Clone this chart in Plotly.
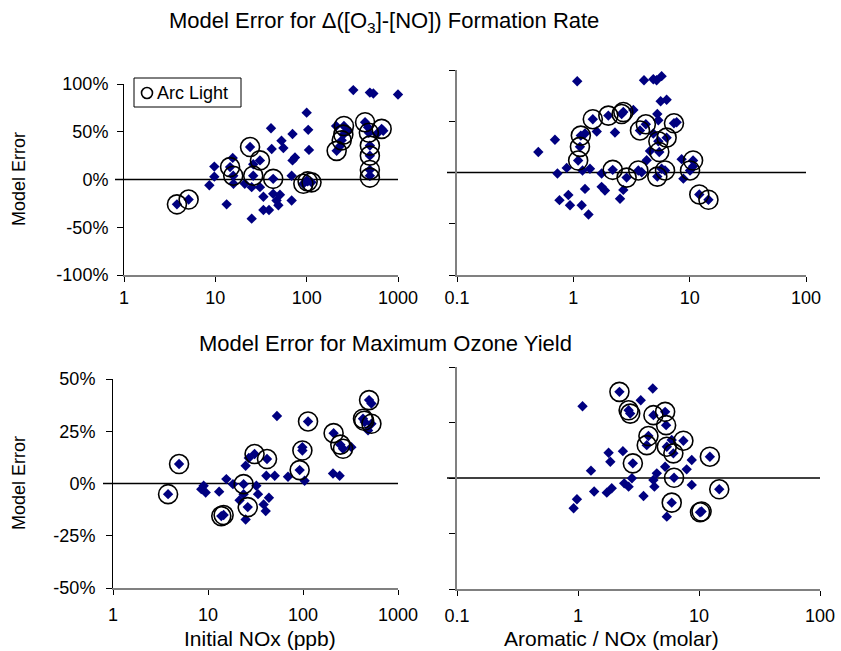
import plotly.graph_objects as go

# ---------------- data ----------------
# Top-left: Model error for d(O3-NO) rate vs initial NOx (ppb)
TL_x = [3.8, 5.1, 8.6, 9.75, 9.75, 13.3, 15.5, 14.5, 15.7, 15.8, 21, 25, 24, 30.8, 26, 26, 25, 30.8, 33.6, 33.6,
        38.7, 41.4, 40.7, 43, 43, 46.8, 51, 49, 53, 55.6, 68.5, 68.5, 70, 74.5, 70, 100, 104, 106, 100, 92,
        102.5, 113, 213, 232, 242, 252, 256, 210, 286, 324, 492, 537, 1000, 436, 470, 480, 492, 492, 492, 492,
        662, 690, 585]
TL_y = [-26, -21, -6, 13.5, 3, -26, 22.6, 13, 4, -4.5, -4.5, -41, 34, 20, 4, 16, -8, -8, -18, -32,
        -32, 32, 53.6, 0.7, -15, -22, -16, -27, 40.7, 33, 4, -22, 20, 23, 47.7, 70, 52, 31, -1, -4.5,
        -2, -3, 30, 35, 41, 47, 56, 56, 51, 93.6, 91, 90, 89, 60, 54.6, 49, 35.5, 25, 10, 4,
        53, 51, 47.7]
TLc_x = [3.8, 5.1, 14.5, 15.7, 24, 30.8, 26, 43, 92, 102.5, 113, 213, 242, 252, 256, 436, 480, 492, 492, 492,
         492, 662]
TLc_y = [-26, -21, 13, 4, 34, 20, 4, 0.7, -4.5, -2, -3, 30, 41, 47, 56, 60, 49, 35.5, 25, 10,
         2, 53]

# Top-right: vs aromatic / NOx (molar)
TR_x = [1.08, 4.05, 4.87, 5.2, 5.74, 5.63, 6.34, 0.5, 0.695, 0.73, 0.877, 0.76, 0.906, 0.936, 1.18, 1.35, 1.26,
        1.2, 1.39, 1.1, 1.14, 1.16, 1.26, 1.59, 1.47, 2.0, 2.28, 1.75, 1.87, 1.75, 2.18, 2.52, 2.69, 2.87, 2.6,
        2.69, 3.28, 3.62, 3.87, 3.74, 4.2, 4.56, 4.27, 4.87, 5.27, 5.38, 5.38, 6.34, 5.48, 5.27, 6.14, 5.74,
        7.33, 7.73, 8.53, 8.83, 10.07, 10.7, 10.7, 12.1, 14.5]
TR_y = [89, 90, 91, 90, 94, 69.5, 71, 20, 32, -1, 4.5, -27, -22, -32, -32, -41, -16,
        2, 3.6, 11.7, 25, 36, 38, 40, 52, 55.5, 39, -1, -17.5, -14, 2.6, -25.6, -17, -5, 57,
        59, 61, 2, 0.3, 41, 47, 21, 12, 38, 57, 51, 30.5, 34, 20, -4, 2, 3.6,
        48, 49, 13, -6, 2, 11.7, 6, -21.4, -26.6]
TRc_x = [1.1, 1.14, 1.16, 1.47, 2.0, 2.18, 2.87, 2.6, 2.69, 3.62, 3.74, 4.2, 5.38, 6.34, 5.48, 5.27, 6.14,
         7.33, 10.07, 10.7, 12.1, 14.5]
TRc_y = [11.7, 25, 36, 52, 55.5, 2.6, -5, 57, 59, 2, 41, 47, 30.5, 34, 20, -4, 2,
         48, 2, 11.7, -21.4, -26.6]

# Bottom-left: Model error for maximum ozone yield vs initial NOx (ppb)
BL_x = [3.8, 4.96, 8.5, 9.45, 9.0, 13.1, 14.6, 13.8, 15.6, 18.3, 23.7, 24.9, 26.9, 30.9, 23.7, 21.5, 24.9, 26.2,
        32.3, 33.6, 38.5, 40.5, 43.8, 41.8, 41.1, 50.4, 53.2, 69.5, 92.2, 98.5, 98.5, 104, 113, 207, 243, 210,
        247, 264, 323, 496, 525, 428, 446, 525, 484]
BL_y = [-5.1, 9.3, -2.7, -4.3, -1.1, -3.9, -15.1, -15.6, 2.1, -0.3, -0.3, 8.5, 12.2, 14.1, -5.1, -8, -17.2, -11.3,
        -1.1, -5.1, -10, -13.2, -6.8, 11.7, 3.7, 3.7, 32.3, 3.2, 6.4, 15.8, 17.4, 1.3, 29.7, 4.8, 3.7, 24.1,
        18.6, 16.6, 17.4, 39.9, 38.3, 31.0, 29.4, 28.6, 25.4]
BLc_x = [3.8, 4.96, 14.6, 13.8, 23.7, 30.9, 26.2, 41.8, 92.2, 98.5, 113, 210, 247, 264, 496, 428, 440, 525]
BLc_y = [-5.1, 9.3, -15.1, -15.6, -0.3, 14.1, -11.3, 11.7, 6.4, 15.8, 29.7, 24.1, 18.6, 16.6, 39.9, 31.0, 30.0,
         28.6]

# Bottom-right: vs aromatic / NOx (molar)
BR_x = [1.09, 0.92, 0.98, 1.28, 1.36, 1.73, 1.9, 1.79, 1.85, 2.2, 2.35, 2.62, 2.7, 3.3, 4.15, 2.84, 2.41, 2.62,
        2.79, 3.48, 4.2, 3.82, 3.7, 4.2, 4.28, 4.48, 5.25, 5.35, 5.42, 6.14, 7.43, 5.95, 5.25, 6.22, 5.95, 5.42,
        7.91, 8.71, 8.71, 10.5, 10.2, 12.3, 14.7]
BR_y = [32.3, -13.6, -9.6, 3.3, -6.1, -6.6, -4.6, 11.4, 7.3, 38.8, 12.1, 30.5, 29, 35, 40.3, 6.6, -2.4, -3.9,
        -0.1, -8.1, 28.3, 18.9, 14.8, -0.9, -3.9, 2.1, 29.8, 23.8, 14.1, 11.1, 16.8, 17.1, 5.1, 0.1, -11.1, -17.4,
        3.9, 8.1, -3.1, -15.1, -15.4, 9.6, -5.1]
BRc_x = [2.2, 2.62, 2.7, 2.84, 4.2, 3.82, 3.7, 5.25, 5.35, 5.42, 6.14, 7.43, 6.22, 5.95, 10.5, 10.2, 12.3, 14.7]
BRc_y = [38.8, 30.5, 29, 6.6, 28.3, 18.9, 14.8, 29.8, 23.8, 14.1, 11.1, 16.8, 0.1, -11.1, -15.1, -15.4, 9.6, -5.1]

NOX_TICKS = [1, 10, 100, 1000]
NOX_TEXT = ["1", "10", "100", "1000"]
RATIO_TICKS = [0.1, 1, 10, 100]
RATIO_TEXT = ["0.1", "1", "10", "100"]
TOP_Y_TICKS = [-100, -50, 0, 50, 100]
TOP_Y_TEXT = ["-100%", "-50%", "0%", "50%", "100%"]
BOT_Y_TICKS = [-50, -25, 0, 25, 50]
BOT_Y_TEXT = ["-50%", "-25%", "0%", "25%", "50%"]

TITLE_TOP = "Model Error for Δ([O<sub>3</sub>]-[NO]) Formation Rate"
TITLE_BOT = "Model Error for Maximum Ozone Yield"
YLABEL = "Model Error"
XLABEL_L = "Initial NOx (ppb)"
XLABEL_R = "Aromatic / NOx (molar)"
LEGEND_NAME = "Arc Light"

# ---------------- figure ----------------
W, H = 841, 651
FONT = "Liberation Sans, Arial, sans-serif"
NAVY = "#000080"
GRAY = "#808080"


def px(x):
    return x / W


def py(y):
    return 1 - y / H


fig = go.Figure()

panels = [
    ("x", "y", TL_x, TL_y, TLc_x, TLc_y),
    ("x2", "y2", TR_x, TR_y, TRc_x, TRc_y),
    ("x3", "y3", BL_x, BL_y, BLc_x, BLc_y),
    ("x4", "y4", BR_x, BR_y, BRc_x, BRc_y),
]
for xa, ya, dx, dy, cx, cy in panels:
    fig.add_trace(go.Scatter(
        x=dx, y=dy, xaxis=xa, yaxis=ya, mode="markers", showlegend=False, cliponaxis=False,
        marker=dict(symbol="diamond", size=8, color=NAVY, line=dict(width=0)),
        hoverinfo="x+y"))
for xa, ya, dx, dy, cx, cy in panels:
    fig.add_trace(go.Scatter(
        x=cx, y=cy, xaxis=xa, yaxis=ya, mode="markers", name=LEGEND_NAME, showlegend=False,
        cliponaxis=False,
        marker=dict(symbol="circle-open", size=19, color="black", line=dict(width=1.6, color="black")),
        hoverinfo="x+y"))

doms = {
    "TL": ([px(124), px(398)], [py(275), py(84)]),
    "TR": ([px(457), px(806)], [py(275), py(70)]),
    "BL": ([px(113), px(398)], [py(588), py(379)]),
    "BR": ([px(457), px(820)], [py(589), py(367)]),
}

tickfont = dict(family=FONT, size=18, color="black")


def xaxis(dom, anchor, ticks, text, rng, standoff):
    return dict(domain=dom, anchor=anchor, type="log", range=rng, tickvals=ticks, ticktext=text,
                showgrid=False, zeroline=False, showline=True, linecolor=GRAY, linewidth=2,
                ticks="outside", ticklen=5, tickcolor="black", tickwidth=1, tickfont=tickfont,
                ticklabelstandoff=standoff, showticklabels=True, fixedrange=True, automargin=False)


def yaxis(dom, anchor, ticks, text, rng, labels, lcolor, lwidth, standoff):
    return dict(domain=dom, anchor=anchor, range=rng, tickvals=ticks, ticktext=text,
                showgrid=False, zeroline=False, showline=True, linecolor=lcolor, linewidth=lwidth,
                ticks="outside", ticklen=6, tickcolor="black", tickwidth=1, tickfont=tickfont,
                ticklabelstandoff=standoff, showticklabels=labels, fixedrange=True, automargin=False)


fig.update_layout(
    width=W, height=H, margin=dict(l=0, r=0, t=0, b=0),
    paper_bgcolor="white", plot_bgcolor="white",
    font=dict(family=FONT, color="black"),
    xaxis=xaxis(doms["TL"][0], "y", NOX_TICKS, NOX_TEXT, [0, 3], 0),
    yaxis=yaxis(doms["TL"][1], "x", TOP_Y_TICKS, TOP_Y_TEXT, [-100, 100], True, "black", 1, 5),
    xaxis2=xaxis(doms["TR"][0], "y2", RATIO_TICKS, RATIO_TEXT, [-1, 2], 0),
    yaxis2=yaxis(doms["TR"][1], "x2", TOP_Y_TICKS, TOP_Y_TEXT, [-100, 100], False, GRAY, 2, 5),
    xaxis3=xaxis(doms["BL"][0], "y3", NOX_TICKS, NOX_TEXT, [0, 3], 4),
    yaxis3=yaxis(doms["BL"][1], "x3", BOT_Y_TICKS, BOT_Y_TEXT, [-50, 50], True, "black", 1, 7),
    xaxis4=xaxis(doms["BR"][0], "y4", RATIO_TICKS, RATIO_TEXT, [-1, 2], 4),
    yaxis4=yaxis(doms["BR"][1], "x4", BOT_Y_TICKS, BOT_Y_TEXT, [-50, 50], False, GRAY, 2, 7),
    showlegend=False,
)

# zero reference lines
for ya, x0, x1 in [("y", 115, 398), ("y2", 447, 806), ("y3", 103, 398), ("y4", 447, 820)]:
    fig.add_shape(type="line", xref="paper", yref=ya, x0=px(x0), x1=px(x1), y0=0, y1=0,
                  line=dict(color="black", width=1.6), layer="below")

# legend box (drawn by hand to match the tight Excel-style legend)
fig.add_shape(type="rect", xref="paper", yref="paper", x0=px(134), x1=px(241), y0=py(107), y1=py(78),
              line=dict(color="black", width=1), fillcolor="white", layer="below")
fig.add_shape(type="circle", xref="paper", yref="paper", x0=px(141.5), x1=px(152.5), y0=py(98.5), y1=py(87.5),
              line=dict(color="black", width=1.6))
fig.add_annotation(text=LEGEND_NAME, xref="paper", yref="paper", x=px(155), y=py(93),
                   xanchor="left", yanchor="middle", showarrow=False,
                   font=dict(family=FONT, size=18, color="black"))

ann = [
    (TITLE_TOP, 384, 22, 22),
    (TITLE_BOT, 385, 343, 22),
]
for text, x, y, size in ann:
    fig.add_annotation(text=text, xref="paper", yref="paper", x=px(x), y=py(y),
                       xanchor="center", yanchor="middle", showarrow=False,
                       font=dict(family=FONT, size=size, color="black"))
for text, x in [(XLABEL_L, 260), (XLABEL_R, 611)]:
    fig.add_annotation(text=text, xref="paper", yref="paper", x=px(x), y=py(626),
                       xanchor="center", yanchor="top", showarrow=False, borderpad=0,
                       font=dict(family=FONT, size=21, color="black"))
for yc in [179, 483]:
    fig.add_annotation(text=YLABEL, xref="paper", yref="paper", x=px(19), y=py(yc),
                       xanchor="center", yanchor="middle", showarrow=False, textangle=-90,
                       font=dict(family=FONT, size=18, color="black"))

fig.write_html("out.html")
